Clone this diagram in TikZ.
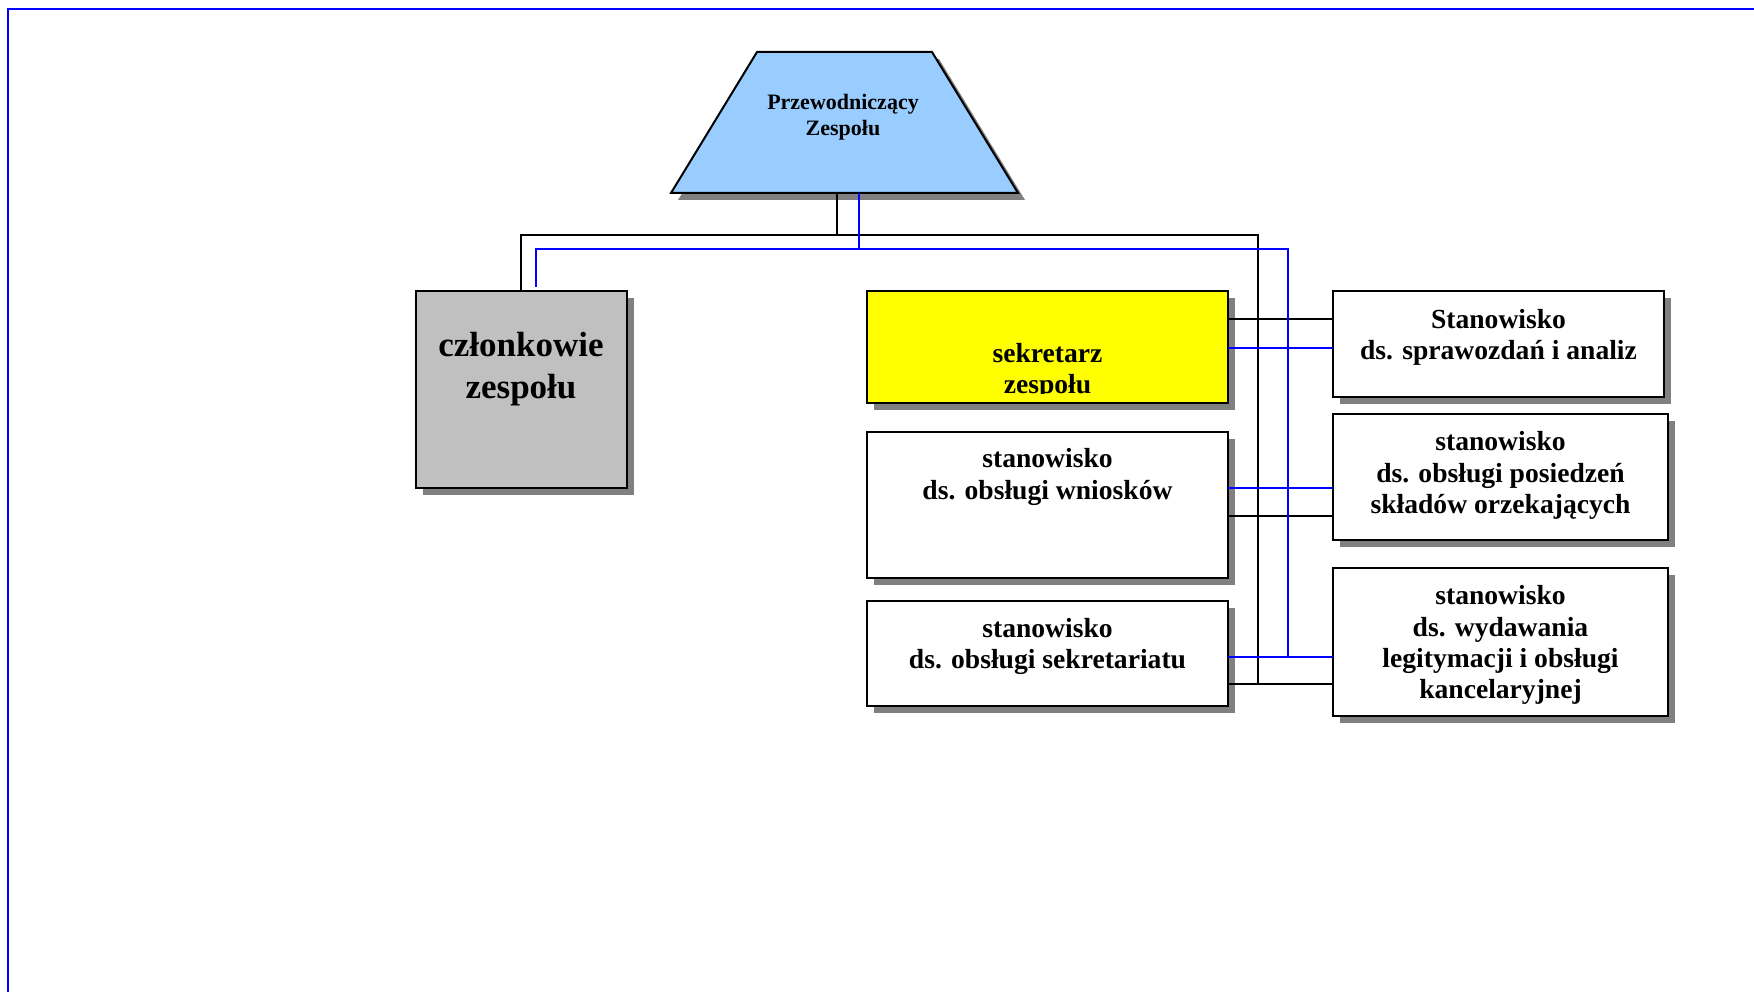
\documentclass[tikz,border=0pt]{standalone}
\usepackage{fontspec}
\setmainfont{Liberation Serif}
\usetikzlibrary{shadows}
\definecolor{frameblue}{RGB}{0,0,255}
\definecolor{linkblue}{RGB}{0,0,255}
\definecolor{shgray}{RGB}{128,128,128}
\definecolor{trapblue}{RGB}{153,204,255}
\definecolor{memgray}{RGB}{192,192,192}
\definecolor{secyellow}{RGB}{255,255,0}
\begin{document}
\begin{tikzpicture}[x=1pt,y=-1pt,
  shadowed/.style={general shadow={fill=shgray,draw=none,shadow xshift=7pt,shadow yshift=-7pt}},
  box/.style={draw=black,line width=2pt,rectangle,inner sep=0pt,outer sep=0pt,fill=white,shadowed},
  txt/.style={align=center,inner sep=0pt,font=\bfseries\fontsize{27.6}{31.2}\selectfont},
  blk/.style={draw=black,line width=1.5pt},
  blu/.style={draw=linkblue,line width=1.5pt}]
\useasboundingbox (0,0) rectangle (1754,992);
\fill[white] (0,0) rectangle (1754,992);
\draw[frameblue,line width=2pt] (8,992) -- (8,9) -- (1754,9);

% chairman (trapezoid)
\fill[shgray] (764,59) -- (939,59) -- (1025,200) -- (678,200) -- cycle;
\draw[fill=trapblue,line width=2pt,line join=miter] (757,52) -- (932,52) -- (1018,193) -- (671,193) -- cycle;
\coordinate (prz) at (844.5,193);
\node[txt,font=\bfseries\fontsize{22}{25.5}\selectfont] (prz-t) at (843,117) {Przewodniczący\\Zespołu};

% members
\node[box,fill=memgray,minimum width=211pt,minimum height=197pt] (czl) at (521.5,389.5) {};
\node[txt,font=\bfseries\fontsize{35}{42}\selectfont] (czl-t) at (521,369.5) {członkowie\\zespołu};

% left column
\node[box,fill=secyellow,minimum width=361pt,minimum height=112pt] (sek) at (1047.5,347) {};
\begin{scope}
\clip (869,293) rectangle (1226,393);
\node[txt] (sek-t) at (1047.5,371) {sekretarz\\zespołu};
\end{scope}
\node[box,minimum width=361pt,minimum height=146pt] (wn) at (1047.5,505) {};
\node[txt] (wn-t) at (1047.5,477) {stanowisko\\ds. obsługi wniosków};
\node[box,minimum width=361pt,minimum height=105pt] (sk) at (1047.5,653.5) {};
\node[txt] (sk-t) at (1047.5,646.5) {stanowisko\\ds. obsługi sekretariatu};

% right column
\node[box,minimum width=331pt,minimum height=106pt] (st1) at (1498.5,344) {};
\node[txt] (st1-t) at (1498.5,337) {Stanowisko\\ds. sprawozdań i analiz};
\node[box,minimum width=335pt,minimum height=126pt] (st2) at (1500.5,477) {};
\node[txt] (st2-t) at (1500.5,475.5) {stanowisko\\ds. obsługi posiedzeń\\składów orzekających};
\node[box,minimum width=335pt,minimum height=148pt] (st3) at (1500.5,642) {};
\node[txt] (st3-t) at (1500.5,645) {stanowisko\\ds. wydawania\\legitymacji i obsługi\\kancelaryjnej};

% black connectors
\draw[blk] (prz -| 837,0) -- (837,235);
\draw[blk] (czl.north -| 521,0) |- (1258,235) -- (1258,684);
\draw[blk] (sek.east |- 0,319) -- (st1.west |- 0,319);
\draw[blk] (wn.east |- 0,516) -- (st2.west |- 0,516);
\draw[blk] (sk.east |- 0,684) -- (st3.west |- 0,684);

% blue connectors
\draw[blu] (prz -| 859,0) -- (859,249);
\draw[blu] (536,287) |- (1288,249) -- (1288,657);
\draw[blu] (sek.east |- 0,348) -- (st1.west |- 0,348);
\draw[blu] (wn.east |- 0,488) -- (st2.west |- 0,488);
\draw[blu] (sk.east |- 0,657) -- (st3.west |- 0,657);
\end{tikzpicture}
\end{document}
